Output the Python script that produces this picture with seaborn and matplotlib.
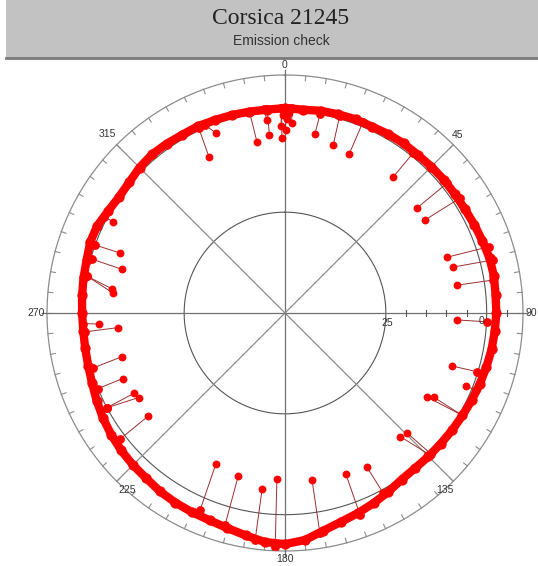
import numpy as np
import matplotlib
matplotlib.use("Agg")
import matplotlib.pyplot as plt
import seaborn as sns

# ---------------- data ----------------
title = "Corsica 21245"
subtitle = "Emission check"

angle_ticks = [0, 45, 90, 135, 180, 225, 270, 315]
angle_labels = ["0", "45", "90", "135", "180", "225", "270", "315"]
radial_ticks = [25, 0]
radial_labels = ["25", "0"]

# main ring of measurements (angle in degrees, radial value)
ring_angle = [0, 5, 10, 15, 20, 25, 30, 35, 40, 45, 50, 55, 60, 65, 70, 75, 80, 85,
              90, 95, 100, 105, 110, 115, 120, 125, 130, 135, 140, 145, 150, 155, 160, 165, 170, 175,
              180, 185, 190, 195, 200, 205, 210, 215, 220, 225, 230, 235, 240, 245, 250, 255, 260, 265,
              270, 275, 280, 285, 290, 295, 300, 305, 310, 315, 320, 325, 330, 335, 340, 345, 350, 355]
ring_value = [-0.8, -0.6, -0.9, -1.0, -1.1, -1.0, -1.2, -1.3, -1.2, -1.3, -1.4, -1.4,
              -1.5, -1.8, -2.1, -2.5, -2.6, -2.4, -2.4, -2.2, -2.0, -1.7, -1.4, -1.1,
              -0.8, -0.6, -0.4, -0.3, -0.2, -0.4, -1.2, -2.0, -2.8, -3.6, -4.8, -6.5,
              -7.3, -7.0, -6.0, -5.2, -4.7, -4.5, -4.3, -4.0, -3.5, -3.3, -3.0, -2.6,
              -2.1, -1.5, -0.9, -0.5, -0.3, -0.2, -0.3, -0.5, -0.7, -0.9, -1.4, -1.3,
              -0.6, -0.2, -0.4, -1.0, -1.3, -1.2, -1.0, -1.1, -0.9, -0.8, -0.7, -0.6]

# outlying measurements and the ring point each one is linked to
out_angle = [334, 339, 350.7, 354.7, 355, 359, 2, 9.5, 16, 22,
             38.5, 51.5, 56.4, 71, 74.7, 80.8, 92.3, 107.6, 112, 120.6,
             119.5, 137, 134.5, 152, 159.3, 170.8, 182.8, 187.4, 196, 204.6,
             233, 240, 242, 248, 255, 265, 266.6, 276.6, 278, 285, 290, 298,
             359.5, 0.5, 358.8, 0.2, 1.2]
out_value = [7.1, 2.2, 7.1, 1.9, 5.6, 6.6, 2.9, 4.9, 6.6, 7.4,
             6.9, 8.1, 8.35, 7.6, 6.9, 6.9, 7.4, 6.6, 1.7, 9.1,
             7.6, 8.1, 7.6, 6.9, 7.4, 8.1, 8.85, 5.9, 7.9, 8.85,
             7.6, 8.1, 7.6, 6.6, 8.1, 8.35, 3.9, 7.1, 6.6, 8.1, 6.6, 1.7,
             1.0, 2.0, 3.6, 4.6, 0.5]
link_angle = [335, 337, 350, 354, 355, 359, 2, 10, 15.5, 22.2,
              38.7, 51.3, 56.7, 72, 75.7, 81, 92.5, 107, 112, 120,
              120, 134.4, 134, 151.4, 159.6, 171, 182.4, 187.5, 195.8, 203.3,
              232.6, 242, 242, 248, 254, 264.6, 267, 280.5, 280.5, 285.6, 289.7, 298,
              359.5, 0.5, 359, 0.2, 1.2]
link_value = [-0.6, -0.6, -0.6, -0.8, -0.8, -0.8, -0.8, -0.1, -0.8, -1.1,
              -0.8, -1.6, -1.8, -3.3, -3.3, -2.3, -0.1, 0.2, -1.1, -0.6,
              -0.6, -0.3, -0.3, -0.8, -3.3, -5.3, -8.0, -6.8, -4.5, -3.3,
              -1.6, -0.1, -0.1, -0.1, 0.4, 0.2, -0.1, 0.2, 0.2, 0.2, -0.1, -0.8,
              -0.8, -0.8, -0.8, -0.8, -0.8]

# ---------------- figure ----------------
W, H = 538, 566
fig = plt.figure(figsize=(W / 100, H / 100), dpi=100)
fig.patch.set_facecolor("white")

# title band
band = fig.add_axes([6 / W, 1 - 58 / H, 532 / W, 58 / H])
band.set_facecolor("#c2c2c2")
band.set_xticks([]); band.set_yticks([])
for s in ["top", "left", "right"]:
    band.spines[s].set_visible(False)
band.spines["bottom"].set_color("#7a7a7a")
band.spines["bottom"].set_linewidth(2)
fig.text(281 / W, 1 - 18 / H, title, ha="center", va="center",
         family="Liberation Serif", fontsize=17, color="#222222")
fig.text(281 / W, 1 - 41 / H, subtitle, ha="center", va="center",
         family="Liberation Sans", fontsize=10, color="#333333")

# polar plot: centre (285,313), outer radius 238 px
cx, cy, R = 285, 313, 238
ax = fig.add_axes([(cx - R) / W, (H - cy - R) / H, 2 * R / W, 2 * R / H], projection="polar")
ax.set_theta_zero_location("N")
ax.set_theta_direction(-1)
rmax_val, rmin_val = 50, -9
ax.set_ylim(rmax_val, rmin_val)
ax.grid(False)
ax.set_xticks([]); ax.set_yticks([])
ax.spines["polar"].set_visible(False)
ax.set_facecolor("white")

grid_c = "#8c8c8c"
full = np.linspace(0, 2 * np.pi, 721)
for rv in radial_ticks:
    ax.plot(full, np.full_like(full, rv), color="#555555", lw=0.8, zorder=1)
ax.plot(full, np.full_like(full, rmin_val), color=grid_c, lw=0.9, zorder=1, clip_on=False)

# outer tick marks every 5 degrees (pointing inward)
for a in range(0, 360, 5):
    t = np.deg2rad(a)
    ax.plot([t, t], [rmin_val, rmin_val + 1.2], color=grid_c, lw=0.8, zorder=1, clip_on=False)

# spokes
for a in angle_ticks:
    t = np.deg2rad(a)
    if a % 90 == 0:
        ax.plot([t, t], [rmax_val, rmin_val - 1.3], color="#707070", lw=0.9, zorder=1, clip_on=False)
    else:
        ax.plot([t, t], [rmax_val, rmin_val], color=grid_c, lw=0.9, zorder=1, clip_on=False)

# small ticks along the 90 axis
for rv in [20, 15, 10, 5, -5]:
    ax.plot([np.pi / 2], [rv], marker="|", ms=5, mew=0.8, color="#555555", zorder=1)

# angle labels
label_pos = {0: (0, -11.5), 45: (44.2, -11.5), 90: (90, -11.0), 135: (137.9, -9.3),
             180: (180, -11.0), 225: (221.6, -8.8), 270: (270, -11.8), 315: (315.3, -12.6)}
for a, lab in zip(angle_ticks, angle_labels):
    ta, rr = label_pos[a]
    ax.text(np.deg2rad(ta), rr, lab, ha="center", va="center", fontsize=7.5,
            family="Liberation Sans", color="#333333", clip_on=False)

# stems
for ta, va_, tl, vl in zip(out_angle, out_value, link_angle, link_value):
    ax.plot([np.deg2rad(ta), np.deg2rad(tl)], [va_, vl], color="#9a3030", lw=0.7, zorder=2)

# ring band
rt = np.deg2rad(ring_angle + [ring_angle[0]])
rv_ = ring_value + [ring_value[0]]
ax.plot(rt, rv_, color="red", lw=6, solid_capstyle="round", zorder=3)
sns.scatterplot(x=np.deg2rad(ring_angle), y=ring_value, ax=ax, color="red", s=55,
                linewidth=0, zorder=4)
sns.scatterplot(x=np.deg2rad(link_angle), y=link_value, ax=ax, color="red", s=40,
                linewidth=0, zorder=4)
sns.scatterplot(x=np.deg2rad(out_angle), y=out_value, ax=ax, color="red", s=32,
                linewidth=0, zorder=5)
ax.set_xlabel(""); ax.set_ylabel("")
ax.set_ylim(rmax_val, rmin_val)

label_offsets = [(1, -10), (-5, -8)]
for rv, lab, off in zip(radial_ticks, radial_labels, label_offsets):
    ax.annotate(lab, xy=(np.pi / 2, rv), xytext=off, textcoords="offset pixels",
                ha="center", va="center", fontsize=7.5, family="Liberation Sans",
                color="#333333", zorder=6)

fig.savefig("out.png", dpi=100)
